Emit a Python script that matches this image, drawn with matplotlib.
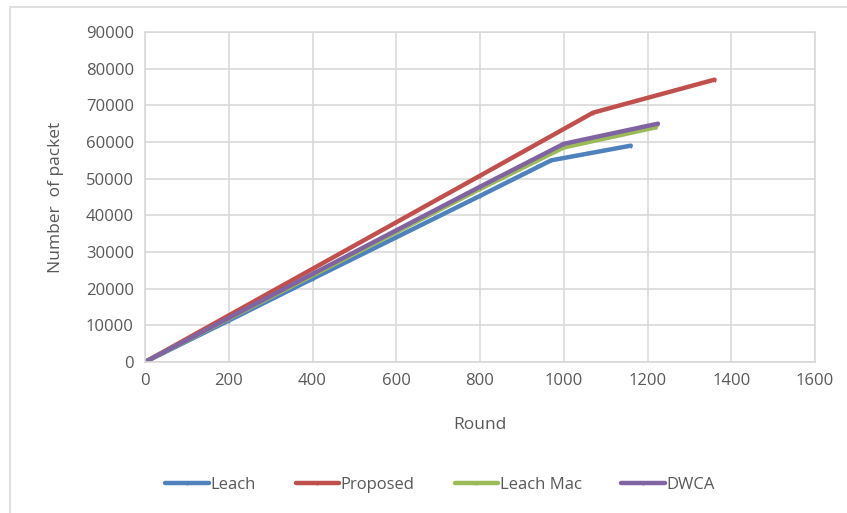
import matplotlib
matplotlib.use("Agg")
import matplotlib.pyplot as plt
from matplotlib.patches import Rectangle

# rounds / packets per protocol
leach_x = [0, 200, 400, 600, 800, 970, 1160]
leach_y = [0, 11300, 22700, 34000, 45300, 55000, 59000]
prop_x = [0, 200, 400, 600, 800, 1070, 1360]
prop_y = [0, 12700, 25400, 38100, 50800, 68000, 77000]
mac_x = [0, 200, 400, 600, 800, 1000, 1220]
mac_y = [0, 11800, 23600, 35400, 47200, 58500, 64000]
dwca_x = [0, 200, 400, 600, 800, 1000, 1225]
dwca_y = [0, 12000, 24000, 35900, 47800, 59500, 65000]

x_ticks = [0, 200, 400, 600, 800, 1000, 1200, 1400, 1600]
y_ticks = [0, 10000, 20000, 30000, 40000, 50000, 60000, 70000, 80000, 90000]

TXT = "#595959"
GRID = "#D9D9D9"
plt.rcParams["font.family"] = ["Open Sans", "DejaVu Sans"]

W, H = 847, 513
fig = plt.figure(figsize=(W / 100, H / 100), dpi=100)
fig.patch.set_facecolor("white")
# outer chart frame
fig.patches.append(Rectangle((10 / W, -0.1), 1.2, 1 - 7 / H + 0.1,
                             transform=fig.transFigure, fill=False,
                             edgecolor=GRID, linewidth=1.2))

ax = fig.add_axes([145 / W, 1 - 362 / H, (815 - 145) / W, (362 - 32) / H])
series = [
    (leach_x, leach_y, "#4F81BD", "Leach"),
    (prop_x, prop_y, "#C0504D", "Proposed"),
    (mac_x, mac_y, "#9BBB59", "Leach Mac"),
    (dwca_x, dwca_y, "#8064A2", "DWCA"),
]
for xs, ys, c, lab in series:
    ax.plot(xs, ys, color=c, linewidth=3.2, label=lab,
            marker="|", markersize=3, markeredgewidth=1, solid_capstyle="round")

ax.set_xlim(0, 1600)
ax.set_ylim(0, 90000)
ax.set_xticks(x_ticks)
ax.set_yticks(y_ticks)
ax.grid(True, color=GRID, linewidth=1.2)
ax.set_axisbelow(True)
for s in ax.spines.values():
    s.set_color(GRID)
    s.set_linewidth(1.2)
ax.tick_params(length=0, colors=TXT, labelsize=12, pad=8)
ax.set_xlabel("Round", color=TXT, fontsize=12.5, labelpad=20)
ax.set_ylabel("Number  of packet", color=TXT, fontsize=12.5, labelpad=16)

leg = fig.legend(loc="center", bbox_to_anchor=(440 / W, 1 - 485 / H), ncol=4,
                 frameon=False, fontsize=12, handlelength=2.6, handletextpad=0.1,
                 columnspacing=2.4)
for t in leg.get_texts():
    t.set_color(TXT)

fig.savefig("out.png", dpi=100, facecolor="white")
